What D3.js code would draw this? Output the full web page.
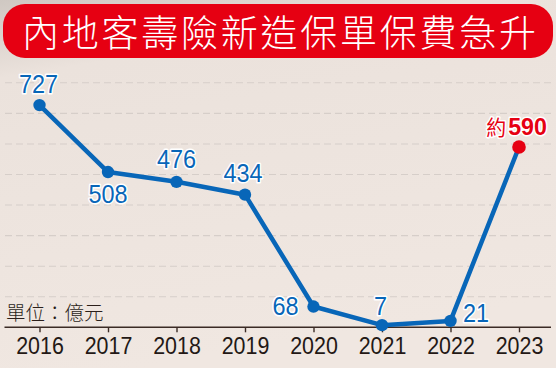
<!DOCTYPE html>
<html><head><meta charset="utf-8">
<script src="https://cdn.jsdelivr.net/npm/d3@7/dist/d3.min.js"></script>
<style>html,body{margin:0;padding:0;background:#efe6e0;}svg{display:block;}</style>
</head><body>
<script>
const title = "內地客壽險新造保單保費急升";
const unitLabel = "單位：億元";
const years = [2016, 2017, 2018, 2019, 2020, 2021, 2022, 2023];
const values = [727, 508, 476, 434, 68, 7, 21, 590];
const valueLabels = ["727", "508", "476", "434", "68", "7", "21", "590"];
const estimatePrefix = "約";
const gridValues = [100, 200, 300, 400, 500, 600, 700, 800];
// label placement relative to each point: [dx, dy, anchor]
const labelPlace = [[-1,-12.4,"middle"],[0,31,"middle"],[0,-13.5,"middle"],[-2,-13,"middle"],[-15,8.5,"end"],[-1.5,-10,"middle"],[12.5,1,"start"],[28,-12,"end"]];

const W = 556, H = 368;
const svg = d3.select("body").append("svg").attr("width", W).attr("height", H);
const defs = svg.append("defs");
const lg = defs.append("linearGradient").attr("id","bg").attr("x1",0).attr("y1",0).attr("x2",0.25).attr("y2",1);
lg.append("stop").attr("offset","0").attr("stop-color","#cfc8c2");
lg.append("stop").attr("offset","0.2").attr("stop-color","#ebe2dc");
lg.append("stop").attr("offset","1").attr("stop-color","#f0e7e1");
svg.append("rect").attr("width",W).attr("height",H).attr("fill","url(#bg)");

const x = d3.scaleLinear().domain([2016, 2023]).range([39.5, 519]);
const y = d3.scaleLinear().domain([0, 820]).range([327.3, 76.7]);

// gridlines
svg.append("g").selectAll("line").data(gridValues).join("line")
  .attr("x1", 5).attr("x2", 551)
  .attr("y1", d => y(d)).attr("y2", d => y(d))
  .attr("stroke", "#d6cec9").attr("stroke-width", 1.1).attr("stroke-dasharray", "7,4");

// banner
svg.append("rect").attr("x",3).attr("y",4).attr("width",550).attr("height",54).attr("rx",22)
  .attr("fill","#e60012");
svg.append("text").attr("x",22).attr("y",31).attr("dominant-baseline","central")
  .attr("textLength",514).attr("lengthAdjust","spacing")
  .attr("font-family","'Noto Sans CJK TC','Noto Sans CJK SC',sans-serif").attr("font-size",37)
  .attr("font-weight",300).attr("fill","#fff").text(title);

// x axis
const axis = d3.axisBottom(x).tickValues(years).tickFormat(d3.format("d")).tickSize(5).tickSizeOuter(0);
const ax = svg.append("g").attr("transform","translate(0,327.3)").call(axis);
ax.select(".domain").attr("d","M4.5,0H551").attr("stroke","#3b2b25").attr("stroke-width",1.6);
ax.selectAll(".tick line").attr("stroke","#3b2b25").attr("stroke-width",1.4);
ax.selectAll(".tick text").attr("y",0).attr("dy",0)
  .attr("transform","translate(0,26.7) scale(0.92,1)")
  .attr("font-family","'Liberation Sans',Arial,sans-serif").attr("font-size",23.3)
  .attr("fill","#231815");

// unit label
svg.append("text").attr("x",6).attr("y",319.5)
  .attr("font-family","'Noto Sans CJK TC','Noto Sans CJK SC',sans-serif").attr("font-size",19.5)
  .attr("font-weight",300).attr("fill","#2b1f1a").text(unitLabel);

// line
const pts = years.map((yr,i)=>[x(yr), y(values[i])]);
svg.append("path").attr("d", d3.line()(pts)).attr("fill","none")
  .attr("stroke","#0866b8").attr("stroke-width",4.5).attr("stroke-linejoin","round");
svg.append("g").selectAll("circle").data(pts).join("circle")
  .attr("cx", d=>d[0]).attr("cy", d=>d[1]).attr("r", (d,i)=> i===pts.length-1 ? 6.8 : 6.2)
  .attr("fill", (d,i)=> i===pts.length-1 ? "#e60012" : "#0866b8");

// labels
pts.forEach((p,i)=>{
  const [dx,dy,anchor] = labelPlace[i];
  const g = svg.append("g").attr("transform",`translate(${p[0]+dx},${p[1]+dy})`);
  const last = i===pts.length-1;
  const t = g.append("text").attr("text-anchor",anchor)
    .attr("transform", last ? "scale(0.95,1)" : "scale(0.92,1)")
    .attr("paint-order","stroke").attr("stroke","#fff").attr("stroke-width",3).attr("stroke-linejoin","round")
    .attr("font-family","'Liberation Sans',Arial,sans-serif");
  if(last){
    t.attr("fill","#e60012");
    t.append("tspan").attr("font-family","'Noto Sans CJK TC','Noto Sans CJK SC',sans-serif")
      .attr("font-size",21).attr("font-weight",400).attr("dx",0).text(estimatePrefix);
    t.append("tspan").attr("font-size",24.5).attr("font-weight","bold").attr("dx",2).text(valueLabels[i]);
  } else {
    t.attr("fill","#0866b8").attr("font-size",25.5).text(valueLabels[i]);
  }
});
</script>
</body></html>
